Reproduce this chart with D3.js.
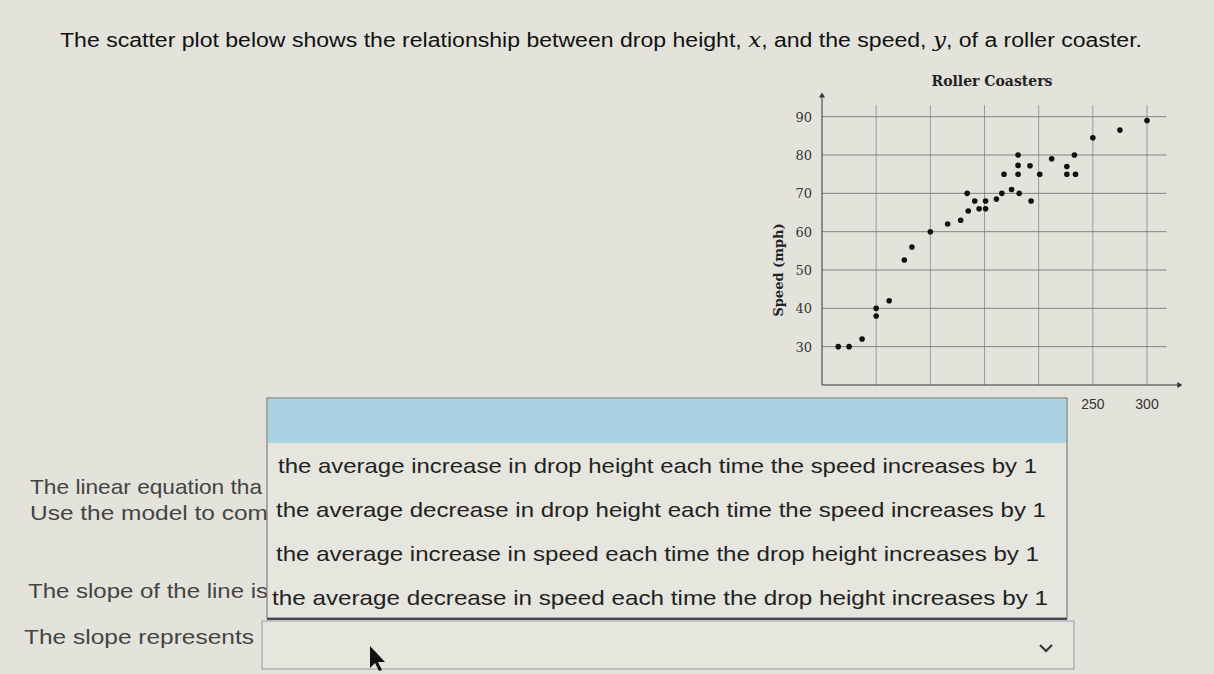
<!DOCTYPE html>
<html><head><meta charset="utf-8">
<script src="https://cdn.jsdelivr.net/npm/d3@7"></script>
<style>body{margin:0;background:#e3e3db;}svg{display:block}</style>
</head><body>
<svg id="c" width="1214" height="674"></svg>
<script>
const dropHeight = [15,25,37,50,50,62,76,83,100,116,128,134,135,141,145,151,151,161,166,168,175,181,181,181,182,192,193,201,212,226,226,234,233,250,275,300];
const speed      = [30,30,32,40,38,42,52.6,56,60,62,63,70,65.4,68,66,66,68,68.5,70,75,71,80,77.3,75,70,77.2,68,75,79,77,75,75,80,84.5,86.5,89];
const xTicks = [0,50,100,150,200,250,300];
const yTicks = [30,40,50,60,70,80,90];
const options = [
 "the average increase in drop height each time the speed increases by 1",
 "the average decrease in drop height each time the speed increases by 1",
 "the average increase in speed each time the drop height increases by 1",
 "the average decrease in speed each time the drop height increases by 1"];
const optSpan = [[278,1037],[276,1046],[276,1039],[272,1048]];

const svg = d3.select("#c");
const sans = "Liberation Sans, Arial, sans-serif";
const serif = "DejaVu Serif, serif";
const h = svg.append("text").attr("x",60).attr("y",47).attr("font-family",sans).attr("font-size",20).attr("fill","#111")
  .attr("textLength",1082).attr("lengthAdjust","spacingAndGlyphs");
h.append("tspan").text("The scatter plot below shows the relationship between drop height, ");
h.append("tspan").attr("font-style","italic").attr("font-family",serif).text("x");
h.append("tspan").text(", and the speed, ");
h.append("tspan").attr("font-style","italic").attr("font-family",serif).text("y");
h.append("tspan").text(", of a roller coaster.");

const x = d3.scaleLinear().domain([0,300]).range([822,1147]);
const y = d3.scaleLinear().domain([20,90]).range([385,116.7]);
const g = svg.append("g");
g.append("text").attr("x",992).attr("y",86).attr("text-anchor","middle").attr("font-family",serif).attr("font-weight","bold").attr("font-size",14).attr("fill","#222").text("Roller Coasters");
g.selectAll(".vg").data(xTicks.slice(1)).join("line").attr("x1",d=>x(d)).attr("x2",d=>x(d)).attr("y1",y(93)).attr("y2",y(20)).attr("stroke","#888").attr("stroke-width",0.8);
g.selectAll(".hg").data(yTicks).join("line").attr("x1",x(0)).attr("x2",x(318)).attr("y1",d=>y(d)).attr("y2",d=>y(d)).attr("stroke","#777").attr("stroke-width",0.9);
g.append("line").attr("x1",x(0)).attr("x2",x(328)).attr("y1",y(20)).attr("y2",y(20)).attr("stroke","#333");
g.append("line").attr("x1",x(0)).attr("x2",x(0)).attr("y1",y(20)).attr("y2",y(95)).attr("stroke","#333");
g.append("path").attr("d",`M${x(328)},${y(20)-3}l5,3l-5,3z`).attr("fill","#333");
g.append("path").attr("d",`M${x(0)-3},${y(95)}l3,-5l3,5z`).attr("fill","#333");
g.selectAll(".yt").data(yTicks).join("text").attr("x",x(0)-10).attr("y",d=>y(d)+5).attr("text-anchor","end").attr("font-family",serif).attr("font-size",13).attr("fill","#333").text(d=>d);
g.selectAll(".xt").data(xTicks).join("text").attr("x",d=>x(d)).attr("y",409).attr("text-anchor","middle").attr("font-family",sans).attr("font-size",14).attr("fill","#333").text(d=>d);
g.append("text").attr("transform",`translate(783,${y(50)}) rotate(-90)`).attr("text-anchor","middle").attr("font-family",serif).attr("font-weight","bold").attr("font-size",13).attr("fill","#222").text("Speed (mph)");
g.selectAll("circle").data(dropHeight).join("circle").attr("cx",d=>x(d)).attr("cy",(d,i)=>y(speed[i])).attr("r",2.8).attr("fill","#111");

const lt = [["The linear equation tha",30,262,494],["Use the model to com",30,268,520],["The slope of the line is",28,268,598],["The slope represents",24,254,644]];
svg.selectAll(".lt").data(lt).join("text").attr("x",d=>d[1]).attr("y",d=>d[3]).attr("font-family",sans).attr("font-size",21).attr("fill","#444")
  .attr("textLength",d=>d[2]-d[1]).attr("lengthAdjust","spacingAndGlyphs").text(d=>d[0]);

svg.append("rect").attr("x",267).attr("y",398).attr("width",800).attr("height",220).attr("fill","#e6e6de").attr("stroke","#666");
svg.append("rect").attr("x",268).attr("y",399).attr("width",798).attr("height",44).attr("fill","#a9d3e2");
svg.selectAll(".op").data(options).join("text").attr("x",(d,i)=>optSpan[i][0]).attr("y",(d,i)=>473+i*44).attr("font-family",sans).attr("font-size",21).attr("fill","#222")
  .attr("textLength",(d,i)=>optSpan[i][1]-optSpan[i][0]).attr("lengthAdjust","spacingAndGlyphs").text(d=>d);
svg.append("line").attr("x1",267).attr("x2",1067).attr("y1",619).attr("y2",619).attr("stroke","#445").attr("stroke-width",2);
svg.append("rect").attr("x",262).attr("y",621).attr("width",812).attr("height",48).attr("fill","#e6e6de").attr("stroke","#999");
svg.append("path").attr("d","M1040,645l6,6l6,-6").attr("fill","none").attr("stroke","#333").attr("stroke-width",2);
svg.append("path").attr("d","M370,646l0,22l5,-5l4,8l3,-1l-4,-8l7,0z").attr("fill","#111");
</script>
</body></html>
